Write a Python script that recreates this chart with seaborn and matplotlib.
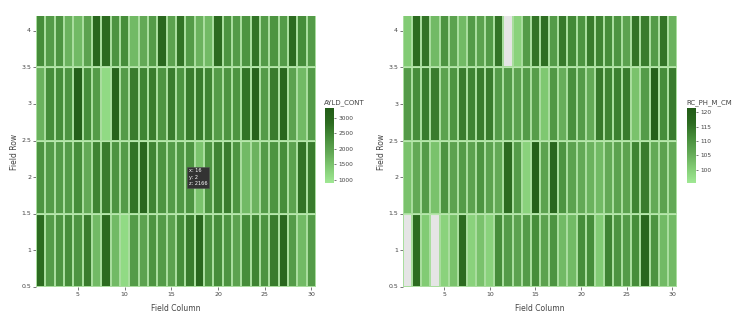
import numpy as np
import pandas as pd
import matplotlib
matplotlib.use("Agg")
import matplotlib.pyplot as plt
import seaborn as sns
from matplotlib.colors import LinearSegmentedColormap

# ---------------- data ----------------
columns = list(range(1, 31))
rows = [4, 3, 2, 1]

ayld_row4 = [2350, 2110, 2230, 1750, 1630, 1990, 2960, 2840, 2230, 2350, 1630, 1870, 2110, 2960, 1990,
             2720, 2110, 1750, 1630, 2840, 2230, 2110, 2230, 2720, 2110, 2230, 2110, 2840, 2350, 2110]
ayld_row3 = [1750, 2350, 2350, 2230, 3200, 2350, 2110, 1140, 3080, 2110, 2590, 2470, 2590, 2230, 2590,
             2230, 2590, 2590, 2470, 2110, 2230, 2230, 2720, 3080, 2110, 2590, 2960, 1990, 1630, 2110]
ayld_row2 = [2230, 2110, 2110, 2110, 2350, 1870, 2470, 2590, 2230, 2110, 2720, 2960, 2470, 2230, 2110,
             2166, 2230, 1500, 2230, 2470, 2590, 2230, 1630, 1750, 2110, 2230, 2350, 1990, 2720, 2590]
ayld_row1 = [2840, 2110, 2230, 2350, 2230, 2590, 1630, 2840, 1630, 1140, 2110, 1990, 2230, 2110, 1990,
             2350, 2590, 2960, 2230, 2350, 2230, 1990, 2350, 2470, 2230, 2590, 2960, 2110, 1630, 2110]

nan = np.nan
ph_row4 = [100.7, 116.2, 114.9, 103.3, 109.7, 107.2, 103.3, 108.5, 107.2, 108.5, 114.9, nan, 99.4, 108.5, 114.9,
           115.7, 108.5, 114.1, 111.6, 109.7, 113.6, 112.3, 111.0, 109.7, 107.2, 114.9, 113.6, 108.5, 114.9, 104.6]
ph_row3 = [108.5, 111.0, 113.6, 113.6, 107.2, 109.7, 113.6, 112.3, 113.6, 113.6, 108.5, 108.5, 107.2, 108.5, 108.0,
           101.2, 109.0, 105.3, 110.5, 108.5, 105.9, 114.1, 112.3, 113.1, 113.6, 102.0, 108.5, 120.1, 111.0, 113.6]
ph_row2 = [102.0, 105.9, 108.5, 102.0, 109.7, 107.2, 108.5, 107.2, 109.7, 107.2, 105.9, 116.2, 108.5, 99.4, 120.1,
           107.2, 117.5, 109.7, 107.2, 105.9, 104.6, 103.3, 105.9, 107.2, 107.2, 112.3, 113.6, 105.9, 107.2, 105.9]
ph_row1 = [nan, 116.2, 100.7, nan, 99.4, 102.0, 116.2, 99.4, 102.0, 99.4, 111.0, 108.5, 107.2, 108.5, 111.0,
           107.2, 109.7, 103.3, 103.3, 111.0, 111.0, 100.7, 112.3, 109.7, 108.5, 111.0, 117.5, 109.7, 103.3, 103.3]

ayld_ticks = [1000, 1500, 2000, 2500, 3000]
ph_ticks = [100, 105, 110, 115, 120]
x_ticks = [5, 10, 15, 20, 25, 30]
y_ticks = [0.5, 1, 1.5, 2, 2.5, 3, 3.5, 4]

ayld = pd.DataFrame([ayld_row4, ayld_row3, ayld_row2, ayld_row1], index=rows, columns=columns)
ph = pd.DataFrame([ph_row4, ph_row3, ph_row2, ph_row1], index=rows, columns=columns)

# ---------------- style ----------------
sns.set_theme(style="white")
plt.rcParams["font.family"] = ["DejaVu Sans"]

cmap = LinearSegmentedColormap.from_list(
    "grn", ["#a0e894", "#82cb74", "#63a956", "#468d3a", "#2c6b20", "#225c17"])

fig = plt.figure(figsize=(7.4, 3.29), dpi=100)
ax1 = fig.add_axes([36 / 740, 42 / 329, 280 / 740, 271 / 329])
cax1 = fig.add_axes([325 / 740, 146 / 329, 9 / 740, 75 / 329])
ax2 = fig.add_axes([403 / 740, 42 / 329, 274 / 740, 271 / 329])
cax2 = fig.add_axes([687 / 740, 146 / 329, 9 / 740, 75 / 329])

txt_col = "#444444"


def draw(ax, cax, df, vmin, vmax, cticks, title, title_x):
    ax.set_facecolor("#e5e5e5")
    sns.heatmap(df, ax=ax, cbar_ax=cax, cmap=cmap, vmin=vmin, vmax=vmax,
                linewidths=0.25, linecolor="#a9dd9e",
                cbar_kws={"ticks": cticks})
    ax.hlines([1, 2, 3], 0, 30, color="#b8e8ad", lw=0.8)
    ax.set_xlim(0, 30)
    ax.set_ylim(4, 0.3)
    ax.set_xticks([x - 0.5 for x in x_ticks])
    ax.set_xticklabels([str(x) for x in x_ticks], rotation=0)
    ax.set_yticks([4.5 - y for y in y_ticks])
    ax.set_yticklabels([("%g" % y) for y in y_ticks], rotation=0)
    ax.tick_params(axis="both", labelsize=4.5, colors=txt_col, length=2,
                   width=0.5, pad=1.5, left=True, bottom=True)
    ax.set_xlabel("Field Column", fontsize=5.5, color=txt_col)
    ax.set_ylabel("Field Row", fontsize=5.5, color=txt_col)
    ax.xaxis.set_label_coords(0.5, -0.063)
    ax.yaxis.set_label_coords(-0.062, 0.5)
    for s in ax.spines.values():
        s.set_visible(False)
    cb = ax.collections[0].colorbar
    cb.outline.set_visible(False)
    cax.tick_params(labelsize=4.2, colors=txt_col, length=1.5, width=0.5, pad=1.5)
    fig.text(title_x, 1 - 103 / 329, title, fontsize=5, color=txt_col,
             ha="left", va="center")


draw(ax1, cax1, ayld, 900, 3320, ayld_ticks, "AYLD_CONT", 324 / 740)
draw(ax2, cax2, ph, 95.5, 121.4, ph_ticks, "RC_PH_M_CM", 686 / 740)

# hover label shown in the reference
ax1.text(16.35, 2.5, "x: 16\ny: 2\nz: 2166", fontsize=3.6, color="white",
         ha="left", va="center", linespacing=1.3,
         bbox=dict(boxstyle="square,pad=0.35", fc="#333333", ec="#555555", lw=0.4))

fig.savefig("out.png", dpi=100)
